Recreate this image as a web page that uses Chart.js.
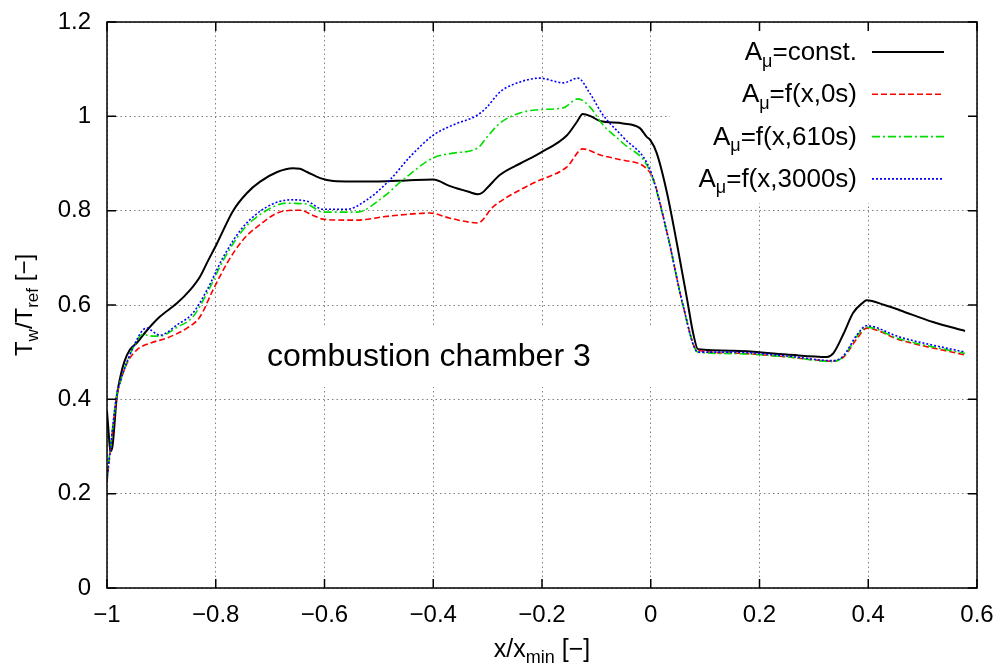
<!DOCTYPE html>
<html>
<head>
<meta charset="utf-8">
<script src="https://cdn.jsdelivr.net/npm/chart.js@4.4.1/dist/chart.umd.min.js"></script>
<style>
  body { margin: 0; background: #fff; }
  canvas { display: block; }
</style>
</head>
<body>
<canvas id="wall-chart" width="998" height="664"></canvas>
<script>
// A_mu = const.
const constX = [-1, -0.997, -0.994, -0.99, -0.982, -0.975, -0.968, -0.958, -0.945, -0.926, -0.903, -0.871, -0.847,
  -0.829, -0.815, -0.798, -0.768, -0.743, -0.719, -0.687, -0.658, -0.645, -0.632, -0.608, -0.584, -0.55, -0.5,
  -0.45, -0.4, -0.369, -0.335, -0.318, -0.31, -0.301, -0.277, -0.24, -0.204, -0.154, -0.136, -0.125, -0.11,
  -0.093, -0.051, -0.02, -0.007, -0.001, 0.011, 0.03, 0.048, 0.067, 0.078, 0.087, 0.151, 0.25, 0.324, 0.336,
  0.355, 0.372, 0.39, 0.397, 0.43, 0.458, 0.519, 0.578];
const constY = [0.375, 0.33, 0.29, 0.3, 0.405, 0.45, 0.48, 0.505, 0.52, 0.547, 0.575, 0.604, 0.632,
  0.66, 0.692, 0.73, 0.8, 0.837, 0.861, 0.882, 0.89, 0.889, 0.882, 0.869, 0.863, 0.862, 0.862,
  0.864, 0.866, 0.852, 0.84, 0.835, 0.838, 0.848, 0.876, 0.9, 0.922, 0.96, 0.988, 1.005, 1.0,
  0.99, 0.985, 0.975, 0.956, 0.95, 0.922, 0.837, 0.731, 0.611, 0.54, 0.506, 0.503, 0.495, 0.49, 0.498,
  0.54, 0.583, 0.605, 0.61, 0.6, 0.589, 0.564, 0.545];

// A_mu = f(x,0s)
const f0X = [-1, -0.993, -0.982, -0.976, -0.963, -0.945, -0.921, -0.89, -0.853, -0.829, -0.805, -0.779, -0.75,
  -0.719, -0.682, -0.645, -0.621, -0.603, -0.559, -0.54, -0.492, -0.45, -0.406, -0.369, -0.318, -0.29,
  -0.217, -0.154, -0.125, -0.093, -0.051, -0.001, 0.03, 0.06, 0.085, 0.151, 0.25, 0.335, 0.354, 0.38,
  0.397, 0.458, 0.578];
const f0Y = [0.225, 0.3, 0.405, 0.435, 0.477, 0.505, 0.519, 0.53, 0.551, 0.575, 0.632, 0.689, 0.738,
  0.77, 0.797, 0.801, 0.79, 0.782, 0.78, 0.78, 0.787, 0.792, 0.795, 0.784, 0.774, 0.808,
  0.858, 0.893, 0.931, 0.918, 0.907, 0.88, 0.753, 0.596, 0.505, 0.498, 0.49, 0.481, 0.489, 0.53,
  0.551, 0.526, 0.494];

// A_mu = f(x,610s)
const f610X = [-1, -0.993, -0.982, -0.975, -0.963, -0.952, -0.934, -0.926, -0.915, -0.903, -0.871, -0.842,
  -0.816, -0.786, -0.75, -0.706, -0.669, -0.645, -0.632, -0.603, -0.559, -0.54, -0.492, -0.456, -0.4,
  -0.363, -0.318, -0.301, -0.277, -0.217, -0.161, -0.134, -0.112, -0.088, -0.051, -0.001, 0.03, 0.06,
  0.087, 0.151, 0.25, 0.335, 0.354, 0.38, 0.397, 0.458, 0.578];
const f610Y = [0.23, 0.305, 0.41, 0.44, 0.48, 0.509, 0.538, 0.536, 0.534, 0.534, 0.553, 0.575,
  0.625, 0.695, 0.759, 0.801, 0.816, 0.815, 0.814, 0.797, 0.797, 0.797, 0.829, 0.865, 0.912,
  0.922, 0.933, 0.956, 0.986, 1.013, 1.018, 1.037, 1.02, 0.982, 0.943, 0.882, 0.753, 0.596,
  0.5, 0.497, 0.49, 0.48, 0.49, 0.535, 0.553, 0.528, 0.497];

// A_mu = f(x,3000s)
const f3000X = [-1, -0.993, -0.982, -0.975, -0.963, -0.952, -0.934, -0.925, -0.915, -0.903, -0.871, -0.842,
  -0.816, -0.786, -0.75, -0.706, -0.663, -0.632, -0.603, -0.559, -0.522, -0.48, -0.443, -0.4, -0.363,
  -0.318, -0.301, -0.277, -0.24, -0.204, -0.161, -0.134, -0.112, -0.088, -0.051, -0.001, 0.03, 0.06,
  0.087, 0.151, 0.25, 0.335, 0.354, 0.38, 0.397, 0.458, 0.578];
const f3000Y = [0.23, 0.305, 0.41, 0.44, 0.48, 0.51, 0.547, 0.551, 0.543, 0.536, 0.558, 0.583,
  0.632, 0.702, 0.765, 0.808, 0.823, 0.82, 0.803, 0.803, 0.823, 0.865, 0.914, 0.96, 0.982,
  1.003, 1.02, 1.052, 1.073, 1.081, 1.071, 1.081, 1.049, 1.003, 0.956, 0.886, 0.753, 0.596,
  0.5, 0.5, 0.492, 0.482, 0.492, 0.538, 0.556, 0.532, 0.5];

const legendNames = ['const.', 'f(x,0s)', 'f(x,610s)', 'f(x,3000s)'];
const xTicks = [-1, -0.8, -0.6, -0.4, -0.2, 0, 0.2, 0.4, 0.6];
const yTicks = [0, 0.2, 0.4, 0.6, 0.8, 1, 1.2];
const annotation = 'combustion chamber 3';

const FONT = '"Liberation Sans", Arial, Helvetica, sans-serif';
const lineColors = ['#000000', '#ff0000', '#00dd00', '#0000ff'];
const lineDashes = [[], [6, 3], [8, 3, 2, 3], [2, 2]];
const lineWidths = [2, 1.6, 1.6, 1.6];

function pts(xs, ys) {
    return xs.map((x, i) => ({x: x, y: ys[i]}));
}

function fmt(v) {
    return String(Number(v.toFixed(1))).replace('-', '\u2212');
}

// draw text with subscripts: segs = [[text, isSub], ...]
function richWidth(ctx, segs, size) {
    let w = 0;
    segs.forEach(s => {
        ctx.font = (s[1] ? Math.round(size * 0.7) : size) + 'px ' + FONT;
        w += ctx.measureText(s[0]).width;
    });
    return w;
}
function drawRich(ctx, segs, x, y, size, align) {
    const w = richWidth(ctx, segs, size);
    let cx = x;
    if (align === 'right') cx = x - w;
    if (align === 'center') cx = x - w / 2;
    ctx.textAlign = 'left';
    ctx.textBaseline = 'alphabetic';
    segs.forEach(s => {
        const sz = s[1] ? Math.round(size * 0.7) : size;
        ctx.font = sz + 'px ' + FONT;
        ctx.fillText(s[0], cx, y + (s[1] ? size * 0.25 : 0));
        cx += ctx.measureText(s[0]).width;
    });
}

function noPad(s) {
    s.paddingTop = 0;
    s.paddingBottom = 0;
    s.paddingLeft = 0;
    s.paddingRight = 0;
}

const decor = {
    id: 'decor',
    beforeDatasetsDraw(chart) {
        const ctx = chart.ctx;
        ctx.save();
        ctx.fillStyle = '#fff';
        ctx.fillRect(670, 23, 306, 180);   // key box
        ctx.fillRect(255, 325, 405, 62);   // label box
        ctx.restore();
    },
    afterDraw(chart) {
        const ctx = chart.ctx;
        const a = chart.chartArea;
        const xs = chart.scales.x, ys = chart.scales.y;
        ctx.save();
        ctx.fillStyle = '#000';
        ctx.strokeStyle = '#000';

        // frame and inward ticks on all four sides
        ctx.lineWidth = 1.5;
        ctx.strokeRect(a.left, a.top, a.right - a.left, a.bottom - a.top);
        ctx.beginPath();
        xTicks.forEach(v => {
            const px = xs.getPixelForValue(v);
            ctx.moveTo(px, a.bottom); ctx.lineTo(px, a.bottom - 9);
            ctx.moveTo(px, a.top); ctx.lineTo(px, a.top + 9);
        });
        yTicks.forEach(v => {
            const py = ys.getPixelForValue(v);
            ctx.moveTo(a.left, py); ctx.lineTo(a.left + 9, py);
            ctx.moveTo(a.right, py); ctx.lineTo(a.right - 9, py);
        });
        ctx.stroke();

        // key
        legendNames.forEach((name, i) => {
            const y = 52 + i * 42.3;
            ctx.fillStyle = '#000';
            drawRich(ctx, [['A', false], ['\u03bc', true], ['=' + name, false]], 857, y + 8, 26, 'right');
            ctx.beginPath();
            ctx.lineWidth = lineWidths[i];
            ctx.strokeStyle = lineColors[i];
            ctx.setLineDash(lineDashes[i]);
            ctx.moveTo(872, y);
            ctx.lineTo(944, y);
            ctx.stroke();
            ctx.setLineDash([]);
        });

        // label
        ctx.fillStyle = '#000';
        ctx.font = '32px ' + FONT;
        ctx.textAlign = 'left';
        ctx.textBaseline = 'alphabetic';
        ctx.fillText(annotation, 267, 366);

        // axis titles
        drawRich(ctx, [['x/x', false], ['min', true], [' [\u2212]', false]], (a.left + a.right) / 2, 657, 25, 'center');
        ctx.translate(32, (a.top + a.bottom) / 2);
        ctx.rotate(-Math.PI / 2);
        drawRich(ctx, [['T', false], ['w', true], ['/T', false], ['ref', true], [' [\u2212]', false]], 0, 0, 24, 'center');
        ctx.restore();
    }
};

const gridOpts = {color: '#808080', lineWidth: 1, drawTicks: false};

new Chart(document.getElementById('wall-chart'), {
    type: 'line',
    data: {
        datasets: [
            {data: pts(constX, constY), order: 3},
            {data: pts(f0X, f0Y), order: 2},
            {data: pts(f610X, f610Y), order: 1},
            {data: pts(f3000X, f3000Y), order: 0}
        ].map((d, i) => Object.assign(d, {
            label: legendNames[i],
            borderColor: lineColors[i],
            borderDash: lineDashes[i],
            borderWidth: lineWidths[i],
            pointRadius: 0,
            fill: false,
            cubicInterpolationMode: 'monotone'
        }))
    },
    options: {
        responsive: false,
        devicePixelRatio: 1,
        animation: false,
        layout: {padding: {left: 0, right: 21, top: 22, bottom: 0}},
        plugins: {
            legend: {display: false},
            tooltip: {enabled: false}
        },
        scales: {
            x: {
                type: 'linear',
                min: -1,
                max: 0.6,
                afterFit: s => { s.height = 76; noPad(s); },
                afterBuildTicks: s => { s.ticks = xTicks.map(v => ({value: v})); },
                grid: gridOpts,
                border: {display: false, dash: [1.5, 3]},
                ticks: {
                    padding: 13,
                    color: '#000',
                    font: {family: FONT, size: 24},
                    maxRotation: 0,
                    callback: v => fmt(v)
                }
            },
            y: {
                min: 0,
                max: 1.2,
                afterFit: s => { s.width = 107; noPad(s); },
                afterBuildTicks: s => { s.ticks = yTicks.map(v => ({value: v})); },
                grid: gridOpts,
                border: {display: false, dash: [1.5, 3]},
                ticks: {
                    padding: 16,
                    color: '#000',
                    font: {family: FONT, size: 24},
                    callback: v => fmt(v)
                }
            }
        }
    },
    plugins: [decor]
});
</script>
</body>
</html>
